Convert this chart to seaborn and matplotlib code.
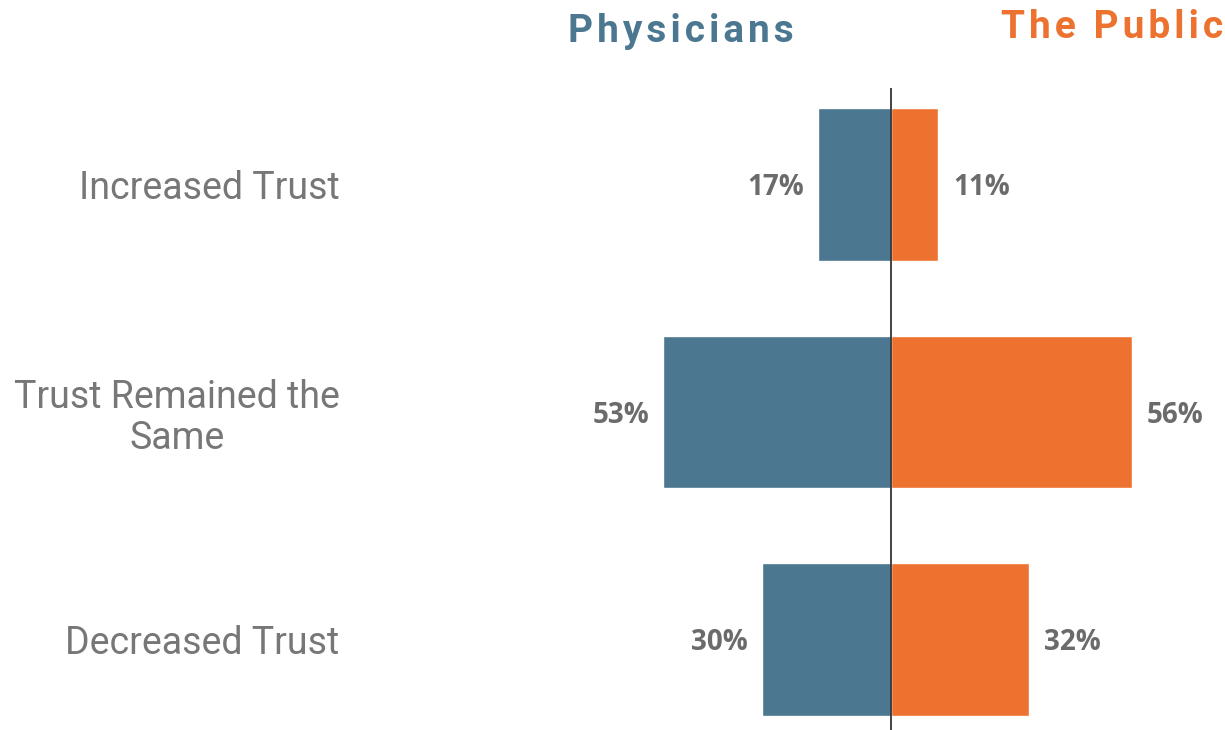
import numpy as np
import pandas as pd
import seaborn as sns
import matplotlib.pyplot as plt

# datos del grafico
categorias = ['Increased Trust', 'Trust Remained the\nSame', 'Decreased Trust']
medicos = [17, 53, 30]
publico = [11, 56, 32]

azul = '#4b7890'
naranja = '#ed7230'
gris_texto = '#6b6b6b'

sns.set_theme(style='white')
plt.rcParams['font.family'] = ['Roboto', 'DejaVu Sans']

fig = plt.figure(figsize=(12.25, 7.3), dpi=100)
ax = fig.add_axes([355 / 1225, 0, 870 / 1225, 642 / 730])

df = pd.DataFrame({'cat': categorias,
                   'medicos': -np.array(medicos),
                   'publico': publico})

sns.barplot(data=df, x='medicos', y='cat', orient='h', color=azul,
            width=0.67, saturation=1, ax=ax)
sns.barplot(data=df, x='publico', y='cat', orient='h', color=naranja,
            width=0.67, saturation=1, ax=ax)

ax.axvline(0, color='#333333', lw=1.3, zorder=5)

ax.set_xlim(-124.65, 77.67)
ax.set_ylim(2.398, -0.424)
ax.set_xlabel('')
ax.set_ylabel('')
ax.set_xticks([])
sns.despine(ax=ax, left=True, bottom=True)

ax.tick_params(axis='y', length=0, pad=11)
for lbl in ax.get_yticklabels():
    lbl.set_fontsize(27)
    lbl.set_color('#777777')
    lbl.set_multialignment('center')
    lbl.set_linespacing(1.15)

# etiquetas de valores
for i, (m, p) in enumerate(zip(medicos, publico)):
    ax.text(-m - 3.3, i + 0.015, f'{m}%', ha='right', va='center', fontsize=20,
            fontweight='bold', color=gris_texto, family=['Open Sans', 'DejaVu Sans'])
    ax.text(p + 3.5, i + 0.015, f'{p}%', ha='left', va='center', fontsize=20,
            fontweight='bold', color=gris_texto, family=['Open Sans', 'DejaVu Sans'])

# encabezados (con espaciado entre letras)
hs = '\u200a'
fig.text(681 / 1225, 1 - 31 / 730, hs.join('Physicians'), ha='center', va='center',
         fontsize=28, fontweight='bold', color=azul)
fig.text(1112 / 1225, 1 - 27 / 730, hs.join('The Public'), ha='center', va='center',
         fontsize=28, fontweight='bold', color=naranja)

fig.savefig('out.png', dpi=100)
